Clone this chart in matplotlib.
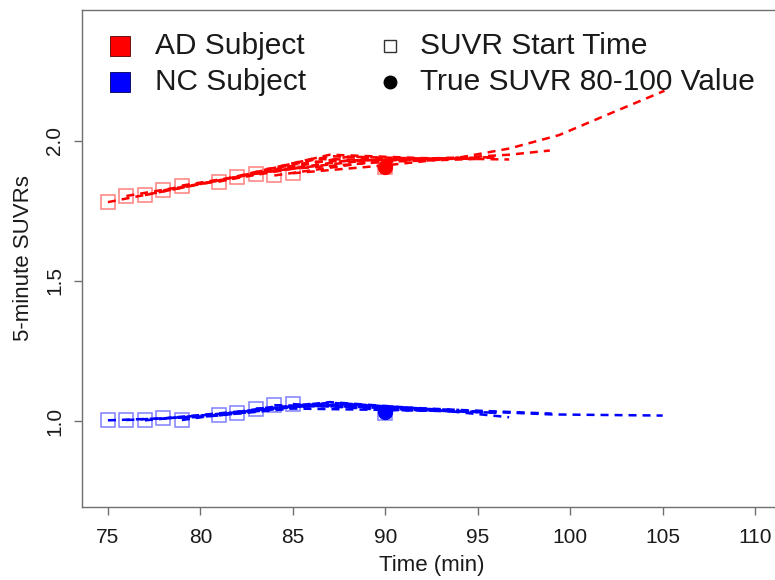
import matplotlib
matplotlib.use("Agg")
import matplotlib.pyplot as plt

plt.rcParams['font.family'] = ['Liberation Sans', 'DejaVu Sans']

# ---------------- data ----------------
start_times = [75, 76, 77, 78, 79, 81, 82, 83, 84, 85, 90]
ad_start_suvr = [1.781, 1.803, 1.806, 1.823, 1.840, 1.854, 1.870, 1.882, 1.876, 1.884, 1.905]
nc_start_suvr = [1.003, 1.004, 1.003, 1.010, 1.004, 1.021, 1.029, 1.045, 1.057, 1.061, 1.030]

ad_true_time = 90
ad_true_value = 1.905
nc_true_time = 90
nc_true_value = 1.034

ad_curve_x = [
    [75, 80, 85, 90, 95],
    [76, 81, 86, 91, 96],
    [77, 82, 87, 92, 96.7],
    [78, 83, 88, 93],
    [79, 84, 89, 94, 96.7, 98.9],
    [81, 86, 91, 96],
    [82, 87, 92],
    [83, 88, 93],
    [84, 89, 94],
    [85, 90, 94, 96.7, 99.4, 102.2, 105.1],
]
ad_curve_y = [
    [1.781, 1.845, 1.900, 1.925, 1.935],
    [1.803, 1.858, 1.935, 1.930, 1.940],
    [1.806, 1.872, 1.950, 1.938, 1.933],
    [1.823, 1.882, 1.943, 1.935],
    [1.840, 1.893, 1.930, 1.940, 1.950, 1.965],
    [1.854, 1.925, 1.932, 1.942],
    [1.870, 1.945, 1.930],
    [1.882, 1.930, 1.935],
    [1.876, 1.922, 1.940],
    [1.884, 1.912, 1.940, 1.972, 2.020, 2.098, 2.178],
]

nc_curve_x = [
    [75, 80, 85, 90, 95],
    [76, 81, 86, 91, 96],
    [77, 82, 87, 92, 96.7],
    [78, 83, 88, 93],
    [79, 84, 89, 94, 99],
    [81, 86, 91, 96],
    [82, 87, 92],
    [83, 88, 93],
    [84, 89, 94],
    [85, 90, 95, 99, 105],
]
nc_curve_y = [
    [1.003, 1.015, 1.045, 1.040, 1.035],
    [1.004, 1.020, 1.058, 1.040, 1.030],
    [1.003, 1.032, 1.068, 1.045, 1.014],
    [1.010, 1.040, 1.062, 1.040],
    [1.004, 1.052, 1.055, 1.040, 1.027],
    [1.021, 1.062, 1.042, 1.030],
    [1.029, 1.066, 1.040],
    [1.045, 1.060, 1.040],
    [1.057, 1.050, 1.040],
    [1.061, 1.040, 1.035, 1.024, 1.020],
]

x_ticks = [75, 80, 85, 90, 95, 100, 105, 110]
y_ticks = [1.0, 1.5, 2.0]
y_tick_labels = ["1.0", "1.5", "2.0"]

legend_labels_col1 = ["AD Subject", "NC Subject"]
legend_labels_col2 = ["SUVR Start Time", "True SUVR 80-100 Value"]

# ---------------- figure ----------------
W, H = 775, 580
fig = plt.figure(figsize=(W / 100, H / 100), dpi=100)
ax = fig.add_axes([82 / W, 1 - 507 / H, (781 - 82) / W, (507 - 10) / H])

dash = (3.2, 2.4)
for xs, ys in zip(ad_curve_x, ad_curve_y):
    ax.plot(xs, ys, color='#ff0000', lw=1.8, linestyle=(0, dash))
for xs, ys in zip(nc_curve_x, nc_curve_y):
    ax.plot(xs, ys, color='#0000ff', lw=1.8, linestyle=(0, dash))

ax.plot(start_times, ad_start_suvr, linestyle='none', marker='s', markersize=10,
        markerfacecolor='none', markeredgecolor=(1, 0, 0, 0.5), markeredgewidth=1.1)
ax.plot(start_times, nc_start_suvr, linestyle='none', marker='s', markersize=10,
        markerfacecolor='none', markeredgecolor=(0, 0, 1, 0.5), markeredgewidth=1.1)

ax.plot([ad_true_time], [ad_true_value], linestyle='none', marker='o', markersize=10,
        color='#ff0000')
ax.plot([nc_true_time], [nc_true_value], linestyle='none', marker='o', markersize=10,
        color='#0000ff')

ax.set_xlim(73.6, 111.4)
ax.set_ylim(0.694, 2.466)
ax.set_xticks(x_ticks)
ax.set_xticklabels([str(t) for t in x_ticks])
ax.set_yticks(y_ticks)
ax.set_yticklabels(y_tick_labels, rotation=90, va='center')

for s in ax.spines.values():
    s.set_color('#707070')
    s.set_linewidth(1.0)
ax.tick_params(axis='both', direction='out', length=6, width=1, color='#707070',
               labelsize=15, labelcolor='#1a1a1a')
ax.tick_params(axis='x', pad=9)
ax.tick_params(axis='y', pad=7)
ax.set_xlabel("Time (min)", fontsize=16, color='#1a1a1a', labelpad=6)
ax.set_ylabel("5-minute SUVRs", fontsize=16, color='#1a1a1a', labelpad=8)

# ---------------- legend (pixel-space overlay) ----------------
lax = fig.add_axes([0, 0, 1, 1], facecolor='none')
lax.set_xlim(0, W)
lax.set_ylim(H, 0)
lax.axis('off')

row_y = [46, 82]
lax.plot([120], [row_y[0]], marker='s', markersize=14, markerfacecolor='#ff0000',
         markeredgecolor='#550000', markeredgewidth=0.6, linestyle='none')
lax.plot([120], [row_y[1]], marker='s', markersize=14, markerfacecolor='#0000ff',
         markeredgecolor='#000055', markeredgewidth=0.6, linestyle='none')
lax.plot([390], [row_y[0]], marker='s', markersize=9, markerfacecolor='none',
         markeredgecolor='#333333', markeredgewidth=1.0, linestyle='none')
lax.plot([390], [row_y[1]], marker='o', markersize=9, color='black', linestyle='none')

for lbl, y in zip(legend_labels_col1, row_y):
    lax.text(155, y, lbl, fontsize=21.5, va='center', ha='left', color='#1a1a1a')
for lbl, y in zip(legend_labels_col2, row_y):
    lax.text(420, y, lbl, fontsize=21.5, va='center', ha='left', color='#1a1a1a')

fig.savefig("out.png", dpi=100)
